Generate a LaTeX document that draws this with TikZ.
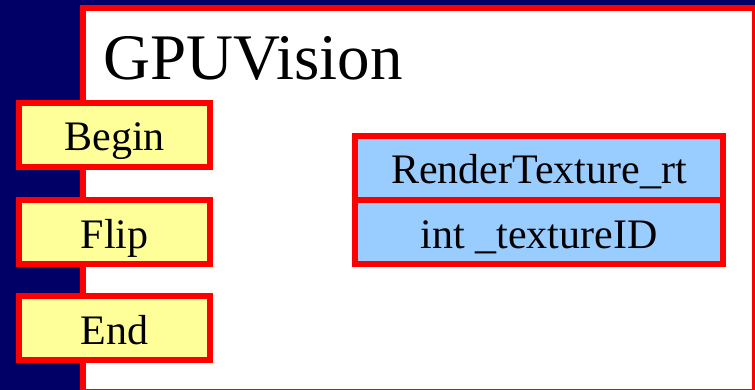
\documentclass[tikz,border=0pt]{standalone}
\usepackage{fontspec}
\setmainfont{Liberation Serif}
\definecolor{navy}{HTML}{000066}
\definecolor{boxred}{HTML}{FF0000}
\definecolor{boxyellow}{HTML}{FFFF99}
\definecolor{boxblue}{HTML}{99CCFF}
\tikzset{
  opbox/.style={draw=boxred, fill=boxyellow, line width=6pt, rectangle,
    minimum width=191pt, minimum height=64pt, inner sep=0pt,
    text height=36pt, text depth=4pt,
    font=\fontsize{42}{50}\selectfont},
  fieldbox/.style={draw=boxred, fill=boxblue, line width=5.5pt, rectangle,
    minimum width=368pt, minimum height=64pt, inner sep=0pt,
    text height=36pt, text depth=4pt,
    font=\fontsize{42}{50}\selectfont},
}
\begin{document}
\begin{tikzpicture}[x=1pt, y=-1pt]
\useasboundingbox (0,0) rectangle (755,390);
\clip (0,0) rectangle (755,390);
\fill[navy] (0,0) rectangle (755,390);
\draw[boxred, fill=white, line width=6pt] (83,8) rectangle (755,391.5);
\node[anchor=base west, inner sep=0pt, font=\fontsize{65}{72}\selectfont] (title) at (103,80) {GPUVision};
\node[opbox] (begin) at (114.5,135) {Begin};
\node[opbox] (flip) at (114.5,232) {Flip};
\node[opbox] (end) at (114.5,328) {End};
\node[fieldbox] (rt) at (539,168) {RenderTexture\_rt};
\node[fieldbox] (tid) at (539,232) {int \_textureID};
\end{tikzpicture}
\end{document}
